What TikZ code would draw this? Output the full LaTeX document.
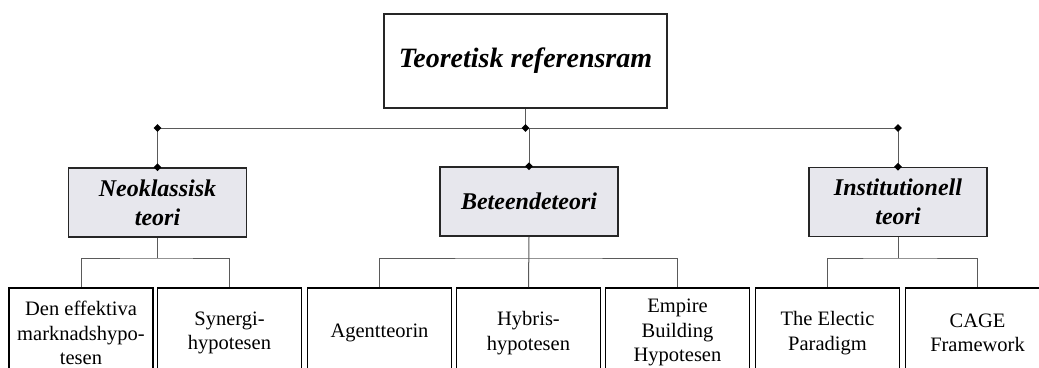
\documentclass[tikz,border=0pt]{standalone}
\usepackage{fontspec}
\setmainfont{Liberation Serif}
\usetikzlibrary{shapes.geometric}
\definecolor{catfill}{RGB}{231,231,237}
\definecolor{conn}{RGB}{90,90,90}
\tikzset{
  topbox/.style={draw=black!85, line width=1.6pt, fill=white, minimum width=283pt, minimum height=94pt, inner sep=0pt,
    font=\fontsize{28}{32}\selectfont\bfseries\itshape},
  catbox/.style={draw=black!85, line width=1.6pt, fill=catfill, minimum width=178pt, minimum height=69pt, inner sep=0pt, align=center,
    font=\fontsize{24}{29}\selectfont\bfseries\itshape},
  leafbox/.style={draw=black, line width=1.8pt, fill=white, minimum width=144pt, minimum height=90pt, inner sep=0pt, align=center,
    font=\fontsize{20.5}{24.5}\selectfont},
  conline/.style={draw=conn, line width=1pt},
  dia/.style={diamond, fill=black, draw=none, minimum width=8pt, minimum height=8pt, inner sep=0pt}
}
\begin{document}
\begin{tikzpicture}[x=1pt,y=-1pt]
\clip (0,0) rectangle (1039,367);
\fill[white] (0,0) rectangle (1039,367);

% top
\node[topbox] (top) at (525.5,61) {Teoretisk referensram};

% categories
\node[catbox] (neo) at (157.5,202.5) {Neoklassisk\\teori};
\node[catbox] (bet) at (529,201.5) {Beteendeteori};
\node[catbox] (ins) at (898,202) {Institutionell\\teori};

% leaves
\node[leafbox, anchor=north] (l1) at (81,287) {Den effektiva\\marknadshypo-\\tesen};
\node[leafbox, anchor=north] (l2) at (229.5,287) {Synergi-\\hypotesen};
\node[leafbox, anchor=north] (l3) at (379.5,287) {Agentteorin};
\node[leafbox, anchor=north] (l4) at (528.5,287) {Hybris-\\hypotesen};
\node[leafbox, anchor=north] (l5) at (677.5,287) {Empire\\Building\\Hypotesen};
\node[leafbox, anchor=north] (l6) at (827.5,287) {The Electic\\Paradigm};
\node[leafbox, anchor=north] (l7) at (977.5,287) {CAGE\\Framework};

% junction coordinates
\coordinate (jm) at (top.south |- 0,128);
\coordinate (jl) at (neo.north |- 0,128);
\coordinate (jr) at (ins.north |- 0,128);
\coordinate (jb) at (bet.north |- 0,128);

\coordinate (nb) at (neo.south |- 0,258);
\coordinate (bb) at (bet.south |- 0,258);
\coordinate (ib) at (ins.south |- 0,258);

% top connectors
\draw[conline] (top.south) -- (jm);
\draw[conline] (jl) -- (jr);
\draw[conline] (jl) -- (neo.north);
\draw[conline] (jb) -- (bet.north);
\draw[conline] (jr) -- (ins.north);

% category to leaves
\draw[conline] (neo.south) -- (nb);
\draw[conline] (l1.north) |- (nb) -| (l2.north);
\draw[conline] (bet.south) -- (l4.north);
\draw[conline] (l3.north) |- (bb) -| (l5.north);
\draw[conline] (ins.south) -- (ib);
\draw[conline] (l6.north) |- (ib) -| (l7.north);

% diamonds
\node[dia] (d1) at (jl) {};
\node[dia] (d2) at (jm) {};
\node[dia] (d3) at (jr) {};
\node[dia] (d4) at (neo.north) {};
\node[dia] (d5) at (bet.north) {};
\node[dia] (d6) at (ins.north) {};
\end{tikzpicture}
\end{document}
